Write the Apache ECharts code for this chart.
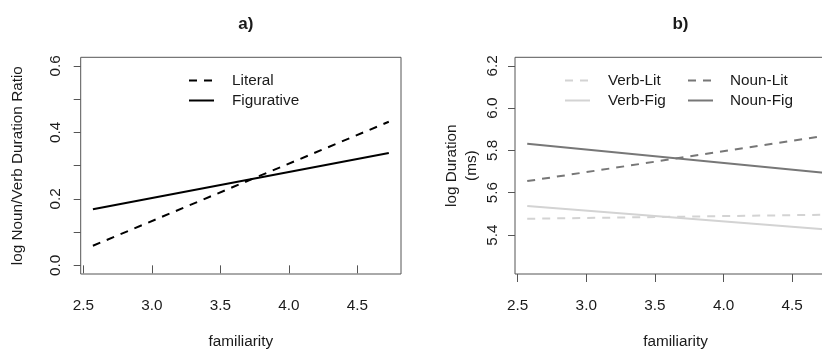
<!DOCTYPE html>
<html>
<head>
<meta charset="utf-8">
<script src="https://cdn.jsdelivr.net/npm/echarts@6/dist/echarts.min.js"></script>
<style>
  html, body { margin: 0; padding: 0; overflow: hidden; background: #fff; }
  #chart { width: 840px; height: 350px; }
</style>
</head>
<body>
<div id="chart"></div>
<script>
// data ------------------------------------------------------------
const familiarity = [2.57, 4.73];
const literalRatio = [0.059, 0.432];
const figurativeRatio = [0.169, 0.338];
const verbLit = [5.477, 5.496];
const verbFig = [5.537, 5.427];
const nounLit = [5.655, 5.868];
const nounFig = [5.832, 5.694];

const xTicks = [2.5, 3.0, 3.5, 4.0, 4.5];
const ratioTicks = [0.0, 0.1, 0.2, 0.3, 0.4, 0.5, 0.6];
const ratioLabels = [0.0, 0.2, 0.4, 0.6];
const durationTicks = [5.4, 5.6, 5.8, 6.0, 6.2];

const pairs = (xs, ys) => xs.map((x, i) => [x, ys[i]]);

const font = 'Liberation Sans, Arial, sans-serif';
const fs = 15.3;
const ink = '#1a1a1a';
const frame = '#555';

const xAxisOpts = (gridIndex) => ({
    type: 'value',
    gridIndex: gridIndex,
    min: 2.481,
    max: 4.819,
    name: 'familiarity',
    nameLocation: 'middle',
    nameGap: 60,
    nameTextStyle: {fontFamily: font, fontSize: fs, color: ink},
    axisLine: {show: false},
    splitLine: {show: false},
    axisTick: {show: true, length: 8, customValues: xTicks, lineStyle: {color: frame}},
    axisLabel: {
        customValues: xTicks,
        formatter: (v) => v.toFixed(1),
        margin: 24,
        fontFamily: font, fontSize: fs, color: ink
    }
});

const lineSeries = (name, data, axis, color, dashed) => ({
    name: name,
    type: 'line',
    xAxisIndex: axis,
    yAxisIndex: axis,
    data: data,
    symbol: 'none',
    silent: true,
    lineStyle: {color: color, width: 2, type: dashed ? [8, 7] : 'solid'},
    itemStyle: {color: color}
});

const legendOpts = (names, left, gap) => ({
    data: names,
    orient: 'vertical',
    left: left,
    top: 73,
    padding: 0,
    itemWidth: 25,
    itemHeight: 14,
    itemGap: 5,
    selectedMode: false,
    itemStyle: {opacity: 0},
    textStyle: {fontFamily: font, fontSize: fs, color: ink, padding: [0, 0, 0, gap]}
});

const chart = echarts.init(document.getElementById('chart'));

chart.setOption({
    animation: false,
    title: [
        {text: 'a)', left: 240.8, top: 11, textAlign: 'center',
         textStyle: {fontFamily: font, fontSize: 17, fontWeight: 'bold', color: ink}},
        {text: 'b)', left: 675.5, top: 11, textAlign: 'center',
         textStyle: {fontFamily: font, fontSize: 17, fontWeight: 'bold', color: ink}}
    ],
    legend: [
        legendOpts(['Literal', 'Figurative'], 188, 13),
        legendOpts(['Verb-Lit', 'Verb-Fig'], 564, 13),
        legendOpts(['Noun-Lit', 'Noun-Fig'], 687, 12)
    ],
    grid: [
        {left: 80.7, top: 57.3, width: 320.3, height: 216.7, outerBoundsMode: 'none',
         show: true, borderColor: frame, borderWidth: 1, backgroundColor: 'transparent'},
        {left: 515, top: 57.3, width: 321, height: 216.7, outerBoundsMode: 'none',
         show: true, borderColor: frame, borderWidth: 1, backgroundColor: 'transparent'}
    ],
    xAxis: [xAxisOpts(0), xAxisOpts(1)],
    yAxis: [
        {
            type: 'value',
            gridIndex: 0,
            min: -0.026,
            max: 0.626,
            name: 'log Noun/Verb Duration Ratio',
            nameLocation: 'middle',
            nameGap: 55,
            nameRotate: 90,
            nameTextStyle: {fontFamily: font, fontSize: fs, color: ink},
            axisLine: {show: false},
            splitLine: {show: false},
            axisTick: {show: true, length: 7, customValues: ratioTicks, lineStyle: {color: frame}},
            axisLabel: {
                customValues: ratioLabels,
                rotate: 90,
                formatter: (v) => v.toFixed(1),
                margin: 17,
                fontFamily: font, fontSize: fs, color: ink
            }
        },
        {
            type: 'value',
            gridIndex: 1,
            min: 5.216,
            max: 6.24,
            name: 'log Duration\n(ms)',
            nameLocation: 'middle',
            nameGap: 33,
            nameRotate: 90,
            nameTextStyle: {fontFamily: font, fontSize: fs, color: ink, lineHeight: 20, align: 'center'},
            axisLine: {show: false},
            splitLine: {show: false},
            axisTick: {show: true, length: 7, customValues: durationTicks, lineStyle: {color: frame}},
            axisLabel: {
                customValues: durationTicks,
                rotate: 90,
                formatter: (v) => v.toFixed(1),
                margin: 15,
                fontFamily: font, fontSize: fs, color: ink
            }
        }
    ],
    series: [
        lineSeries('Literal', pairs(familiarity, literalRatio), 0, '#000', true),
        lineSeries('Figurative', pairs(familiarity, figurativeRatio), 0, '#000', false),
        lineSeries('Verb-Lit', pairs(familiarity, verbLit), 1, '#d3d3d3', true),
        lineSeries('Verb-Fig', pairs(familiarity, verbFig), 1, '#d3d3d3', false),
        lineSeries('Noun-Lit', pairs(familiarity, nounLit), 1, '#777', true),
        lineSeries('Noun-Fig', pairs(familiarity, nounFig), 1, '#777', false)
    ]
});
</script>
</body>
</html>
